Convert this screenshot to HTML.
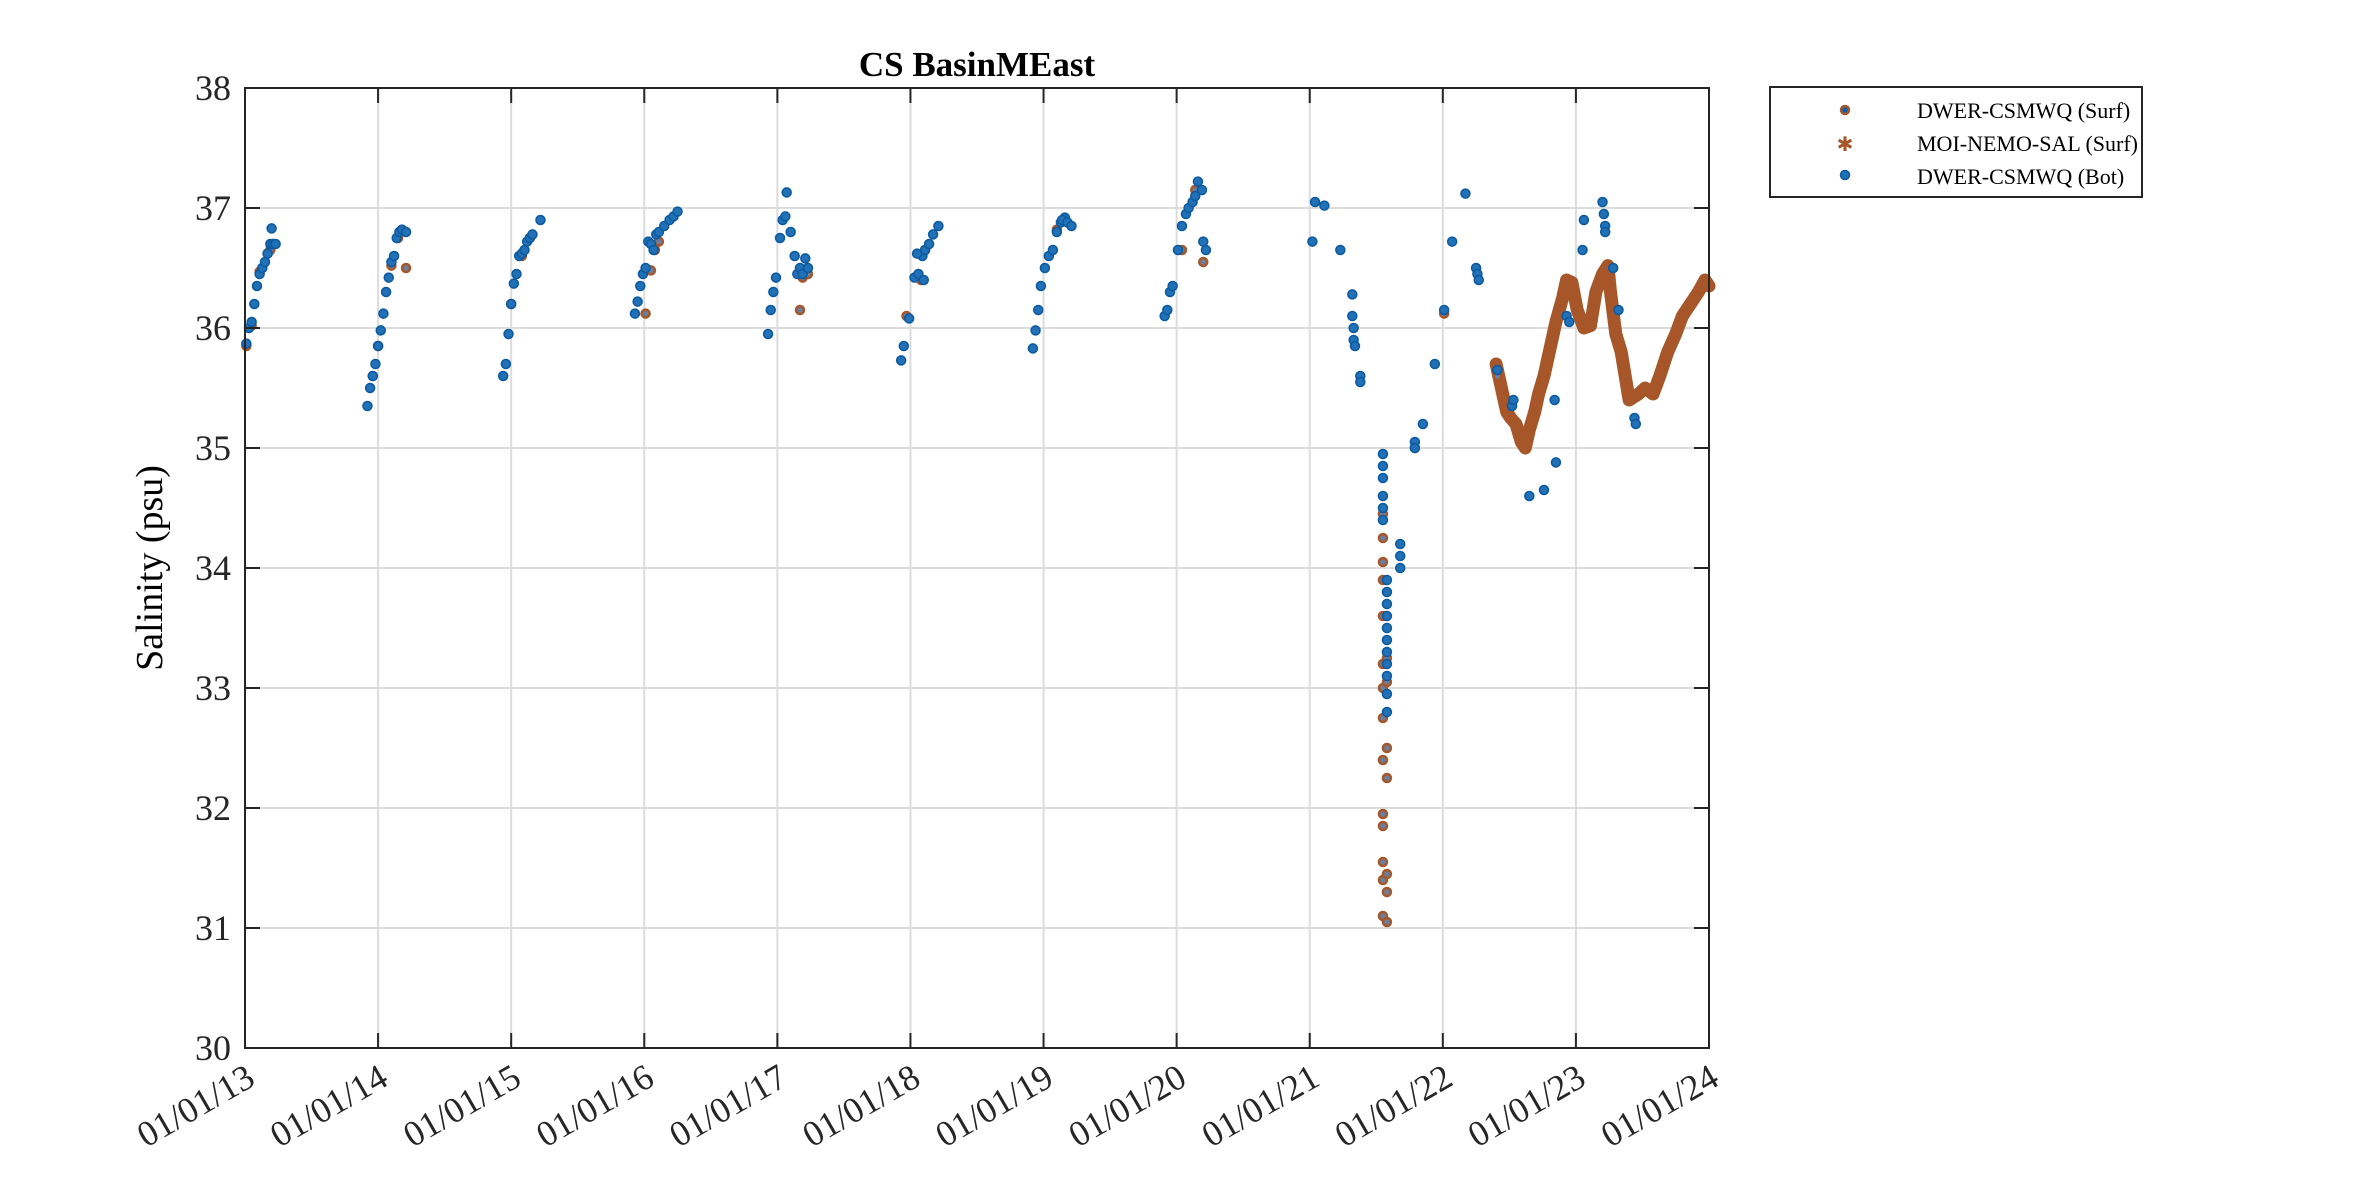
<!DOCTYPE html>
<html><head><meta charset="utf-8"><style>
html,body{margin:0;padding:0;background:#fff;}
svg{display:block;font-family:"Liberation Serif",serif;}
</style></head><body>
<svg id="chart" width="2362" height="1181" viewBox="0 0 2362 1181" xmlns="http://www.w3.org/2000/svg">
<rect width="2362" height="1181" fill="#fff"/>
<g id="grid"></g>
<g id="marks"></g>
<rect x="245" y="88" width="1464" height="960" fill="none" stroke="#262626" stroke-width="2"/>
<g id="ticks"></g>
<text x="977" y="76" font-size="35" font-weight="bold" text-anchor="middle" fill="#000">CS BasinMEast</text>
<text transform="translate(162,568) rotate(-90)" font-size="38" text-anchor="middle" fill="#000">Salinity (psu)</text>
<g>
<rect x="1770" y="87" width="372" height="110" fill="#fff" stroke="#262626" stroke-width="2"/>
<g><circle cx="1845" cy="110" r="4" fill="#0f62a8" stroke="#a65628" stroke-width="2.5"/><text x="1917" y="118" font-size="22">DWER-CSMWQ (Surf)</text></g>
<g><text x="1845" y="151" font-size="20" fill="#a65628" text-anchor="middle">✱</text><text x="1917" y="151" font-size="22">MOI-NEMO-SAL (Surf)</text></g>
<g><circle cx="1845" cy="175" r="4.5" fill="#1f6fb4" stroke="#0b5aa0" stroke-width="1.5"/><text x="1917" y="184" font-size="22">DWER-CSMWQ (Bot)</text></g>
</g>
</svg>
<script>
const yTicks=[30,31,32,33,34,35,36,37,38];
const xTickYears=[2013,2014,2015,2016,2017,2018,2019,2020,2021,2022,2023,2024];
const xTickLabels=["01/01/13","01/01/14","01/01/15","01/01/16","01/01/17","01/01/18","01/01/19","01/01/20","01/01/21","01/01/22","01/01/23","01/01/24"];
const botDates=[2013.01,2013.03,2013.05,2013.07,2013.09,2013.11,2013.13,2013.15,2013.17,2013.19,2013.21,2013.20,2013.23,
2013.92,2013.94,2013.96,2013.98,2014.00,2014.02,2014.04,2014.06,2014.08,2014.10,2014.12,2014.14,2014.16,2014.18,2014.21,
2014.94,2014.96,2014.98,2015.00,2015.02,2015.04,2015.06,2015.08,2015.10,2015.12,2015.14,2015.16,2015.22,
2015.93,2015.95,2015.97,2015.99,2016.01,2016.03,2016.05,2016.07,2016.09,2016.11,2016.15,2016.19,2016.22,2016.25,
2016.93,2016.95,2016.97,2016.99,2017.02,2017.04,2017.06,2017.07,2017.10,2017.13,2017.15,2017.17,2017.19,2017.21,2017.23,
2017.93,2017.95,2017.99,2018.03,2018.06,2018.09,2018.11,2018.14,2018.17,2018.21,2018.05,2018.10,
2018.92,2018.94,2018.96,2018.98,2019.01,2019.04,2019.07,2019.10,2019.13,2019.16,2019.14,2019.18,2019.21,
2019.91,2019.93,2019.95,2019.97,2020.01,2020.04,2020.07,2020.09,2020.12,2020.14,2020.16,2020.19,2020.20,2020.22,
2021.02,2021.04,2021.11,2021.23,2021.32,2021.32,2021.33,2021.33,2021.34,2021.38,2021.38,
2021.55,2021.55,2021.55,2021.55,2021.55,2021.55,
2021.58,2021.58,2021.58,2021.58,2021.58,2021.58,2021.58,2021.58,2021.58,2021.58,2021.58,
2021.68,2021.68,2021.68,2021.79,2021.79,2021.85,2021.94,2022.01,2022.07,2022.17,2022.25,2022.26,2022.27,2022.41,2022.52,2022.53,2022.65,2022.76,2022.84,2022.85,2022.93,2022.95,2023.05,2023.06,2023.20,2023.21,2023.22,2023.22,2023.28,2023.32,2023.44,2023.45];
const botValues=[35.87,36.0,36.05,36.2,36.35,36.45,36.5,36.55,36.62,36.7,36.7,36.83,36.7,
35.35,35.5,35.6,35.7,35.85,35.98,36.12,36.3,36.42,36.55,36.6,36.75,36.8,36.82,36.8,
35.6,35.7,35.95,36.2,36.37,36.45,36.6,36.62,36.65,36.72,36.75,36.78,36.9,
36.12,36.22,36.35,36.45,36.5,36.72,36.7,36.65,36.78,36.8,36.85,36.9,36.93,36.97,
35.95,36.15,36.3,36.42,36.75,36.9,36.93,37.13,36.8,36.6,36.45,36.5,36.45,36.58,36.5,
35.73,35.85,36.08,36.42,36.45,36.6,36.65,36.7,36.78,36.85,36.62,36.4,
35.83,35.98,36.15,36.35,36.5,36.6,36.65,36.8,36.88,36.92,36.9,36.88,36.85,
36.1,36.15,36.3,36.35,36.65,36.85,36.95,37.0,37.05,37.1,37.22,37.15,36.72,36.65,
36.72,37.05,37.02,36.65,36.28,36.1,36.0,35.9,35.85,35.6,35.55,
34.95,34.85,34.75,34.6,34.5,34.4,
33.9,33.8,33.7,33.6,33.5,33.4,33.3,33.2,33.1,32.95,32.8,
34.2,34.1,34.0,35.05,35.0,35.2,35.7,36.15,36.72,37.12,36.5,36.45,36.4,35.65,35.35,35.4,34.6,34.65,35.4,34.88,36.1,36.05,36.65,36.9,37.05,36.95,36.85,36.8,36.5,36.15,35.25,35.2];
const surfDates=[2013.01,2013.05,2013.11,2013.17,2013.19,2013.21,2013.96,2014.00,2014.10,2014.15,2014.21,2015.00,2015.08,2015.14,2016.01,2016.05,2016.08,2016.11,2017.17,2017.19,2017.23,2017.97,2018.08,2018.11,2019.10,2019.16,2020.04,2020.14,2020.20,
2021.55,2021.55,2021.55,2021.55,2021.55,2021.55,2021.55,2021.55,2021.55,2021.55,2021.55,2021.55,2021.55,2021.55,2021.58,2021.58,2021.58,2021.58,2021.58,2021.58,2021.58,
2021.79,2022.01,2022.41];
const surfValues=[35.85,36.02,36.47,36.62,36.65,36.7,35.6,35.85,36.52,36.75,36.5,36.2,36.6,36.75,36.12,36.48,36.65,36.72,36.15,36.42,36.45,36.1,36.4,36.65,36.82,36.9,36.65,37.15,36.55,
34.45,34.25,34.05,33.9,33.6,33.2,33.0,32.75,32.4,31.95,31.85,31.55,31.4,31.1,33.25,33.05,32.5,32.25,31.45,31.3,31.05,
35.0,36.12,35.6];
const moiDates=[2022.40,2022.44,2022.48,2022.51,2022.55,2022.59,2022.62,2022.65,2022.69,2022.72,2022.76,2022.80,2022.85,2022.90,2022.93,2022.97,2023.01,2023.06,2023.11,2023.15,2023.20,2023.24,2023.26,2023.30,2023.34,2023.37,2023.40,2023.47,2023.52,2023.58,2023.63,2023.69,2023.75,2023.80,2023.86,2023.92,2023.97,2024.00];
const moiValues=[35.7,35.5,35.3,35.25,35.2,35.05,35.0,35.15,35.3,35.45,35.6,35.8,36.05,36.25,36.4,36.38,36.15,36.0,36.02,36.3,36.45,36.52,36.3,35.95,35.8,35.6,35.4,35.45,35.5,35.45,35.6,35.8,35.95,36.1,36.2,36.3,36.4,36.35];

const NS="http://www.w3.org/2000/svg";
const X0=245,X1=1709,Y0=88,Y1=1048;
const xs=d=>X0+(d-2013)/(2024-2013)*(X1-X0);
const ys=v=>Y1-(v-30)/(38-30)*(Y1-Y0);
function mk(tag,attrs,parent){const e=document.createElementNS(NS,tag);for(const k in attrs)e.setAttribute(k,attrs[k]);parent.appendChild(e);return e;}
const grid=document.getElementById('grid'),ticks=document.getElementById('ticks'),marks=document.getElementById('marks');
yTicks.forEach(v=>{
  const y=ys(v);
  const g=mk('line',{x1:X0,x2:X1,y1:y,y2:y,stroke:'#dcdcdc','stroke-width':2},grid);
  
  
  const t1=mk('line',{x1:X0,x2:X0+15,y1:y,y2:y,stroke:'#262626','stroke-width':2},ticks);
  
  
  const t2=mk('line',{x1:X1-15,x2:X1,y1:y,y2:y,stroke:'#262626','stroke-width':2},ticks);
  
  
  const l=mk('text',{x:X0-14,y:y+12,'font-size':36,'text-anchor':'end',fill:'#262626'},ticks);
  l.textContent=String(v);
  
  
});
xTickYears.forEach((yr,i)=>{
  const x=xs(yr);
  const g=mk('line',{x1:x,x2:x,y1:Y0,y2:Y1,stroke:'#dcdcdc','stroke-width':2},grid);
  
  
  const t1=mk('line',{x1:x,x2:x,y1:Y1-15,y2:Y1,stroke:'#262626','stroke-width':2},ticks);
  
  
  const t2=mk('line',{x1:x,x2:x,y1:Y0,y2:Y0+15,stroke:'#262626','stroke-width':2},ticks);
  
  
  const l=mk('text',{transform:`translate(${x+12},${Y1+36}) rotate(-30)`,'font-size':36,'text-anchor':'end',fill:'#262626'},ticks);
  l.textContent=xTickLabels[i];
  
  
});
const pts=moiDates.map((d,i)=>xs(d).toFixed(1)+','+ys(moiValues[i]).toFixed(1)).join(' ');
const pl=mk('polyline',{points:pts,fill:'none',stroke:'#a65628','stroke-width':13,'stroke-linejoin':'round','stroke-linecap':'round'},marks);


surfDates.forEach((d,i)=>{
  const c=mk('circle',{cx:xs(d),cy:ys(surfValues[i]),r:4,fill:'#6a7fa0',stroke:'#a65628','stroke-width':2.5},marks);
  
  
});
botDates.forEach((d,i)=>{
  const c=mk('circle',{cx:xs(d),cy:ys(botValues[i]),r:4.5,fill:'#2270b5',stroke:'#0b5aa0','stroke-width':1.5},marks);
  
  
});
</script>
</body></html>
